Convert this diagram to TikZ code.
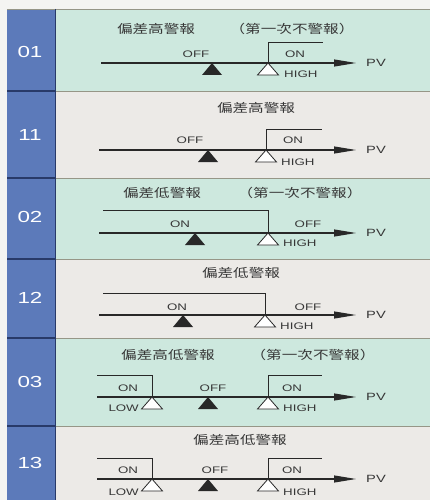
\documentclass[tikz,border=0pt]{standalone}
\usepackage{fontspec}
\setmainfont[FakeStretch=1.4]{Liberation Sans}
\newfontfamily\cjkf[FakeStretch=1.3]{Noto Sans CJK TC}
\usetikzlibrary{arrows.meta}
\definecolor{pagebg}{RGB}{244,244,242}
\definecolor{colblue}{RGB}{92,122,186}
\definecolor{navy}{RGB}{40,58,105}
\definecolor{rowteal}{RGB}{205,232,222}
\definecolor{rowgray}{RGB}{236,234,231}
\definecolor{sepline}{RGB}{150,150,135}
\definecolor{ink}{RGB}{40,40,40}
\definecolor{txt}{RGB}{55,55,55}
\newcommand\blktri[2]{\fill[ink] (#1,#2) -- ++(-10,12) -- ++(20,0) -- cycle;}
\newcommand\whtri[2]{\filldraw[fill=white,draw=ink,line width=0.8pt] (#1,#2) -- ++(-10.5,12) -- ++(21,0) -- cycle;}
\begin{document}
\begin{tikzpicture}[x=1pt,y=-1pt,
  title/.style={font=\fontsize{12}{12}\selectfont\cjkf, text=txt, inner sep=0pt},
  lbl/.style={font=\fontsize{9.5}{10}\selectfont, text=txt, inner sep=0pt},
  pvl/.style={font=\fontsize{10.5}{11}\selectfont, text=txt, inner sep=0pt},
  num/.style={font=\fontsize{16}{16}\selectfont, text=white, inner sep=0pt},
  axis/.style={draw=ink, line width=1.1pt, -{Triangle[length=22pt,width=7pt]}},
  stepline/.style={draw=ink, line width=0.7pt}]
\useasboundingbox (0,0) rectangle (430,500);
\fill[pagebg] (0,0) rectangle (430,500);
% rows
\fill[rowteal] (55,9) rectangle (430,91);
\fill[rowgray] (55,91) rectangle (430,178);
\fill[rowteal] (55,178) rectangle (430,259);
\fill[rowgray] (55,259) rectangle (430,338);
\fill[rowteal] (55,338) rectangle (430,426);
\fill[rowgray] (55,426) rectangle (430,500);
\fill[colblue] (7,9) rectangle (55,500);
% separators
\foreach \yy in {91,178,259,338,426}{
  \draw[sepline, line width=0.8pt] (55,\yy) -- (430,\yy);
  \draw[navy, line width=1.2pt] (7,\yy) -- (55,\yy);
}
\draw[sepline, line width=0.8pt] (7,9) -- (430,9);
\draw[navy, line width=0.8pt] (55,9) -- (55,500);

% ---------- Row 01 ----------
\node[num] (n01) at (30,52) {01};
\node[title] (t01) at (156,29) {偏差高警報};
\node[title] (p01) at (292,29) {（第一次不警報）};
\coordinate (a01s) at (101,63); \coordinate (a01e) at (356,63);
\draw[axis] (a01s) -- (a01e);
\node[pvl] (pv01) at (376,63) {PV};
\blktri{212}{63}
\whtri{268}{63}
\coordinate (s01a) at (268,63); \coordinate (s01b) at (268,42); \coordinate (s01c) at (323,42);
\draw[stepline] (s01a) -- (s01b) -- (s01c);
\node[lbl] (off01) at (196,54) {OFF};
\node[lbl] (on01) at (295,54) {ON};
\node[lbl,anchor=west] (hi01) at (284,74) {HIGH};

% ---------- Row 11 ----------
\node[num] (n11) at (30,135) {11};
\node[title] (t11) at (256,108) {偏差高警報};
\coordinate (a11s) at (99,150); \coordinate (a11e) at (356,150);
\draw[axis] (a11s) -- (a11e);
\node[pvl] (pv11) at (376,150) {PV};
\blktri{208}{150}
\whtri{266}{150}
\coordinate (s11a) at (266,150); \coordinate (s11b) at (266,129); \coordinate (s11c) at (322,129);
\draw[stepline] (s11a) -- (s11b) -- (s11c);
\node[lbl] (off11) at (190,140) {OFF};
\node[lbl] (on11) at (293,140) {ON};
\node[lbl,anchor=west] (hi11) at (281,162) {HIGH};

% ---------- Row 02 ----------
\node[num] (n02) at (30,217) {02};
\node[title] (t02) at (162,193) {偏差低警報};
\node[title] (p02) at (300,193) {（第一次不警報）};
\coordinate (a02s) at (99,233); \coordinate (a02e) at (356,233);
\draw[axis] (a02s) -- (a02e);
\node[pvl] (pv02) at (376,233) {PV};
\blktri{195}{233}
\whtri{268}{233}
\coordinate (s02a) at (103,210); \coordinate (s02b) at (268,210); \coordinate (s02c) at (268,233);
\draw[stepline] (s02a) -- (s02b) -- (s02c);
\node[lbl] (on02) at (180,224) {ON};
\node[lbl] (off02) at (308,224) {OFF};
\node[lbl,anchor=west] (hi02) at (283,243) {HIGH};

% ---------- Row 12 ----------
\node[num] (n12) at (30,298) {12};
\node[title] (t12) at (241,273) {偏差低警報};
\coordinate (a12s) at (99,315); \coordinate (a12e) at (356,315);
\draw[axis] (a12s) -- (a12e);
\node[pvl] (pv12) at (376,315) {PV};
\blktri{183}{315}
\whtri{265}{315}
\coordinate (s12a) at (103,293); \coordinate (s12b) at (265,293); \coordinate (s12c) at (265,315);
\draw[stepline] (s12a) -- (s12b) -- (s12c);
\node[lbl] (on12) at (177,307) {ON};
\node[lbl] (off12) at (308,307) {OFF};
\node[lbl,anchor=west] (hi12) at (280,326) {HIGH};

% ---------- Row 03 ----------
\node[num] (n03) at (30,382) {03};
\node[title] (t03) at (168,355) {偏差高低警報};
\node[title] (p03) at (313,355) {（第一次不警報）};
\coordinate (a03s) at (97,397); \coordinate (a03e) at (356,397);
\draw[axis] (a03s) -- (a03e);
\node[pvl] (pv03) at (376,397) {PV};
\whtri{152}{397}
\blktri{208}{397}
\whtri{268}{397}
\coordinate (l03a) at (97,375); \coordinate (l03b) at (152,375); \coordinate (l03c) at (152,397);
\draw[stepline] (l03a) -- (l03b) -- (l03c);
\coordinate (s03a) at (268,397); \coordinate (s03b) at (268,375); \coordinate (s03c) at (322,375);
\draw[stepline] (s03a) -- (s03b) -- (s03c);
\node[lbl] (onl03) at (128,388) {ON};
\node[lbl,anchor=east] (low03) at (139,408) {LOW};
\node[lbl] (off03) at (213,388) {OFF};
\node[lbl] (onr03) at (292,388) {ON};
\node[lbl,anchor=west] (hi03) at (283,408) {HIGH};

% ---------- Row 13 ----------
\node[num] (n13) at (30,463) {13};
\node[title] (t13) at (240,440) {偏差高低警報};
\coordinate (a13s) at (97,479); \coordinate (a13e) at (356,479);
\draw[axis] (a13s) -- (a13e);
\node[pvl] (pv13) at (376,479) {PV};
\whtri{152}{479}
\blktri{208}{479}
\whtri{268}{479}
\coordinate (l13a) at (97,458); \coordinate (l13b) at (152,458); \coordinate (l13c) at (152,479);
\draw[stepline] (l13a) -- (l13b) -- (l13c);
\coordinate (s13a) at (268,479); \coordinate (s13b) at (268,458); \coordinate (s13c) at (322,458);
\draw[stepline] (s13a) -- (s13b) -- (s13c);
\node[lbl] (onl13) at (128,470) {ON};
\node[lbl,anchor=east] (low13) at (139,492) {LOW};
\node[lbl] (off13) at (215,470) {OFF};
\node[lbl] (onr13) at (292,470) {ON};
\node[lbl,anchor=west] (hi13) at (283,492) {HIGH};
\end{tikzpicture}
\end{document}
